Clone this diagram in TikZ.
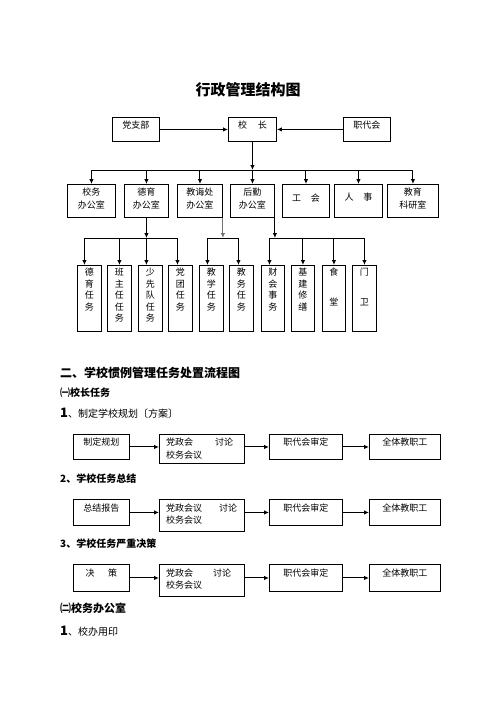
\documentclass[tikz,border=0pt]{standalone}
\usepackage{fontspec}
\setmainfont{Noto Sans CJK SC}
\usetikzlibrary{arrows.meta}
\begin{document}
\begin{tikzpicture}[x=1pt,y=-1pt,
  box/.style={draw, line width=0.9pt, inner sep=0pt, anchor=north west},
  txt/.style={inner sep=0pt, font=\fontsize{9}{11.5}\selectfont},
  two/.style={inner sep=0pt, align=center, font=\fontsize{9}{13}\selectfont},
  col/.style={inner sep=0pt, anchor=north, align=center, font=\fontsize{9}{11.5}\selectfont},
  head/.style={inner sep=0pt, anchor=west},
  ln/.style={line width=1pt},
  arr/.style={line width=1pt, -{Latex[length=5pt,width=4.5pt]}}]
\useasboundingbox (0,0) rectangle (496,702);

% title
\node[inner sep=0pt, font=\bfseries\fontsize{15}{15}\selectfont] (title) at (248,90) {行政管理结构图};

% top row
\node[box,minimum width=47,minimum height=24] (dzb) at (112,117) {};
\node[box,minimum width=48,minimum height=24] (xz) at (228,117) {};
\node[box,minimum width=47,minimum height=24] (zdh) at (343,117) {};
\node[txt] (dzbT) at (dzb.center |- 0,125) {党支部};
\node[txt] (xzT) at (xz.center |- 0,125) {校\hspace{1.2em}长};
\node[txt] (zdhT) at (zdh.center |- 0,125) {职代会};
\draw[arr] (dzb.east) -- (xz.west);
\draw[arr] (zdh.west) -- (xz.east);

% second row
\coordinate (bus1) at (0,170);
\node[box,minimum width=48,minimum height=33] (xwb) at (67,184) {};
\node[box,minimum width=44,minimum height=33] (dyb) at (124,184) {};
\node[box,minimum width=45,minimum height=33] (jhc) at (177,184) {};
\node[box,minimum width=44,minimum height=33] (hq) at (230,184) {};
\node[box,minimum width=47,minimum height=33] (gh) at (282,184) {};
\node[box,minimum width=48,minimum height=33] (rs) at (334,184) {};
\node[box,minimum width=51,minimum height=33] (ky) at (387,184) {};
\node[two] (xwbT) at (xwb.center |- 0,198.5) {校务\\办公室};
\node[two] (dybT) at (dyb.center |- 0,198.5) {德育\\办公室};
\node[two] (jhcT) at (jhc.center |- 0,198.5) {教诲处\\办公室};
\node[two] (hqT) at (hq.center |- 0,198.5) {后勤\\办公室};
\node[txt] (ghT) at (gh.center |- 0,198) {工\hspace{1.1em}会};
\node[txt] (rsT) at (rs.center |- 0,197) {人\hspace{1.1em}事};
\node[two] (kyT) at (ky.center |- 0,198.5) {教育\\科研室};

\draw[arr] (xz.south) -- (xz.south |- bus1);
\draw[ln] (xwb.north |- bus1) -- (ky.north |- bus1);
\foreach \n in {xwb,dyb,jhc,hq,gh,rs,ky}
  \draw[arr] (\n.north |- bus1) -- (\n.north);

% third row
\coordinate (bus2) at (0,238);
\node[box,minimum width=24,minimum height=66] (l1) at (77,265) {};
\node[box,minimum width=24,minimum height=66] (l2) at (107,265) {};
\node[box,minimum width=24,minimum height=66] (l3) at (138,265) {};
\node[box,minimum width=24,minimum height=66] (l4) at (168,265) {};
\node[box,minimum width=24,minimum height=66] (l5) at (199,265) {};
\node[box,minimum width=24,minimum height=66] (l6) at (229,265) {};
\node[box,minimum width=23,minimum height=66] (l7) at (261,265) {};
\node[box,minimum width=23,minimum height=66] (l8) at (291,265) {};
\node[box,minimum width=23,minimum height=66] (l9) at (322,265) {};
\node[box,minimum width=24,minimum height=66] (l10) at (352,265) {};
\node[col] (l1T) at (l1.north |- 0,268) {德\\育\\任\\务};
\node[col] (l2T) at (l2.north |- 0,268) {班\\主\\任\\任\\务};
\node[col] (l3T) at (l3.north |- 0,268) {少\\先\\队\\任\\务};
\node[col] (l4T) at (l4.north |- 0,268) {党\\团\\任\\务};
\node[col] (l5T) at (l5.north |- 0,268) {教\\学\\任\\务};
\node[col] (l6T) at (l6.north |- 0,268) {教\\务\\任\\务};
\node[col] (l7T) at (l7.north |- 0,268) {财\\会\\事\\务};
\node[col] (l8T) at (l8.north |- 0,268) {基\\建\\修\\缮};
\node[col] (l9T) at (l9.north |- 0,268) {食\\[18.5pt]堂};
\node[col] (l10T) at (l10.north |- 0,268) {门\\[18.5pt]卫};

\draw[arr] (dyb.south) -- (dyb.south |- bus2);
\draw[arr, black!55] (jhc.south east) -- (jhc.south east |- bus2);
\draw[arr] (hq.south east) -- (hq.south east |- bus2);

\draw[ln] ([xshift=-5pt]l1.north |- bus2) -- ([xshift=-3pt]l4.north |- bus2);
\draw[ln] ([xshift=-4pt]l5.north |- bus2) -- ([xshift=-3pt]l6.north |- bus2);
\draw[ln] ([xshift=-3.5pt]l7.north |- bus2) -- (l10.north |- bus2);
\draw[arr] ([xshift=-5pt]l1.north |- bus2) -- ([xshift=-5pt]l1.north);
\draw[arr] (l2.north |- bus2) -- (l2.north);
\draw[arr] ([xshift=-4pt]l3.north |- bus2) -- ([xshift=-4pt]l3.north);
\draw[arr] ([xshift=-3pt]l4.north |- bus2) -- ([xshift=-3pt]l4.north);
\draw[arr] ([xshift=-4pt]l5.north |- bus2) -- ([xshift=-4pt]l5.north);
\draw[arr] ([xshift=-3pt]l6.north |- bus2) -- ([xshift=-3pt]l6.north);
\draw[arr] ([xshift=-3.5pt]l7.north |- bus2) -- ([xshift=-3.5pt]l7.north);
\draw[arr] (l8.north |- bus2) -- (l8.north);
\draw[arr] (l9.north |- bus2) -- (l9.north);
\draw[arr] (l10.north |- bus2) -- (l10.north);

% headings
\node[head, font=\bfseries\fontsize{12}{12}\selectfont] (h2) at (60,373) {二、学校惯例管理任务处置流程图};
\node[head, font=\bfseries\fontsize{10}{10}\selectfont] (h21) at (60,393) {㈠校长任务};
\node[head, font=\fontsize{10}{10}\selectfont] (h211) at (60,413) {{\bfseries\fontsize{13}{13}\selectfont 1}、制定学校规划〔方案〕};
\node[head, font=\bfseries\fontsize{10}{10}\selectfont] (h212) at (60,479) {2、学校任务总结};
\node[head, font=\bfseries\fontsize{10}{10}\selectfont] (h213) at (60,544) {3、学校任务严重决策};
\node[head, font=\bfseries\fontsize{11}{11}\selectfont] (h22) at (60,608) {㈡校务办公室};
\node[head, font=\fontsize{10}{10}\selectfont] (h221) at (60,631) {{\bfseries\fontsize{13}{13}\selectfont 1}、校办用印};

% flow row 1
\node[box,minimum width=56,minimum height=25] (r1a) at (73,434) {};
\node[box,minimum width=85,minimum height=29] (r1b) at (159,434) {};
\node[box,minimum width=73,minimum height=25] (r1c) at (269,434) {};
\node[box,minimum width=71,minimum height=25] (r1d) at (369,434) {};
\node[txt] (r1aT) at (r1a.center |- 0,442) {制定规划};
\node[txt,anchor=west] (r1bT1) at (166,442) {党政会};
\node[txt,anchor=west] (r1bT2) at (215,442) {讨论};
\node[txt,anchor=west] (r1bT3) at (166,455) {校务会议};
\node[txt] (r1cT) at (r1c.center |- 0,442) {职代会审定};
\node[txt] (r1dT) at (r1d.center |- 0,442) {全体教职工};
\draw[arr] (r1a.east) -- (r1a.east -| r1b.west);
\draw[arr] (r1b.east |- r1c.west) -- (r1c.west);
\draw[arr] (r1c.east) -- (r1d.west);

% flow row 2
\node[box,minimum width=56,minimum height=26] (r2a) at (73,499) {};
\node[box,minimum width=85,minimum height=32] (r2b) at (159,499) {};
\node[box,minimum width=73,minimum height=26] (r2c) at (269,499) {};
\node[box,minimum width=71,minimum height=26] (r2d) at (369,499) {};
\node[txt] (r2aT) at (r2a.center |- 0,508) {总结报告};
\node[txt,anchor=west] (r2bT1) at (166,508) {党政会议};
\node[txt,anchor=west] (r2bT2) at (219,508) {讨论};
\node[txt,anchor=west] (r2bT3) at (166,520.5) {校务会议};
\node[txt] (r2cT) at (r2c.center |- 0,508) {职代会审定};
\node[txt] (r2dT) at (r2d.center |- 0,508) {全体教职工};
\draw[arr] (r2a.east) -- (r2a.east -| r2b.west);
\draw[arr] (r2b.east |- r2c.west) -- (r2c.west);
\draw[arr] (r2c.east) -- (r2d.west);

% flow row 3
\node[box,minimum width=56,minimum height=27] (r3a) at (73,564) {};
\node[box,minimum width=85,minimum height=32] (r3b) at (159,564) {};
\node[box,minimum width=73,minimum height=27] (r3c) at (269,564) {};
\node[box,minimum width=71,minimum height=27] (r3d) at (369,564) {};
\node[txt] (r3aT) at (r3a.center |- 0,573) {决\hspace{1.5em}策};
\node[txt,anchor=west] (r3bT1) at (166,573) {党政会};
\node[txt,anchor=west] (r3bT2) at (213,573) {讨论};
\node[txt,anchor=west] (r3bT3) at (166,585.5) {校务会议};
\node[txt] (r3cT) at (r3c.center |- 0,573) {职代会审定};
\node[txt] (r3dT) at (r3d.center |- 0,573) {全体教职工};
\draw[arr] (r3a.east) -- (r3a.east -| r3b.west);
\draw[arr] (r3b.east |- r3c.west) -- (r3c.west);
\draw[arr] (r3c.east) -- (r3d.west);
\end{tikzpicture}
\end{document}
